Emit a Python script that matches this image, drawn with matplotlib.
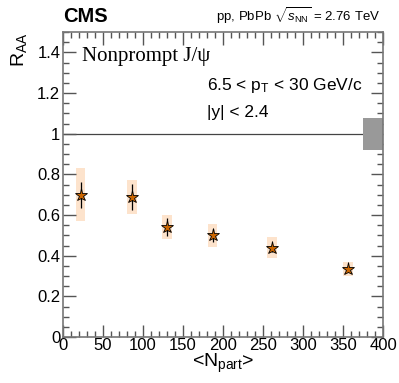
import numpy as np
import matplotlib.pyplot as plt
from matplotlib.patches import Rectangle
from matplotlib.ticker import MultipleLocator

plt.rcParams['font.family'] = ['Liberation Sans', 'DejaVu Sans']
plt.rcParams['mathtext.fontset'] = 'custom'
plt.rcParams['mathtext.rm'] = 'Liberation Sans'
plt.rcParams['mathtext.it'] = 'Liberation Sans:italic'

npart = [22, 86, 130, 187, 261, 356]
raa = [0.70, 0.69, 0.54, 0.50, 0.44, 0.335]
stat_err = [0.065, 0.065, 0.045, 0.03, 0.02, 0.015]
syst_err = [0.13, 0.085, 0.06, 0.058, 0.053, 0.035]
global_unc = 0.08

fig = plt.figure(figsize=(3.99, 3.83), dpi=100)
ax = fig.add_axes([0.158, 0.120, 0.802, 0.796])

box_w = 6
for x, y, s in zip(npart, raa, syst_err):
    ax.add_patch(Rectangle((x - box_w, y - s), 2 * box_w, 2 * s,
                           facecolor='#fde3cc', edgecolor='none', zorder=1))
ax.errorbar(npart, raa, yerr=stat_err, fmt='none', ecolor='black',
            elinewidth=0.9, capsize=0, zorder=2)
ax.plot(npart, raa, linestyle='none', marker='*', markersize=9.5,
        markerfacecolor='#cc6600', markeredgecolor='black',
        markeredgewidth=0.6, zorder=3)

ax.axhline(1.0, color='#444444', linewidth=0.9, zorder=1)
ax.add_patch(Rectangle((375, 1 - global_unc), 25, 2 * global_unc,
                       facecolor='#999999', edgecolor='none', zorder=2))

ax.set_xlim(0, 400)
ax.set_ylim(0, 1.5)
ax.xaxis.set_major_locator(MultipleLocator(50))
ax.xaxis.set_minor_locator(MultipleLocator(10))
ax.yaxis.set_minor_locator(MultipleLocator(0.05))
ax.set_yticks([0, 0.2, 0.4, 0.6, 0.8, 1, 1.2, 1.4])
ax.set_yticklabels(['0', '0.2', '0.4', '0.6', '0.8', '1', '1.2', '1.4'])
ax.tick_params(which='both', direction='in', top=True, right=True,
               labelsize=12, color='#555555')
ax.tick_params(which='major', length=9, width=1)
ax.tick_params(which='minor', length=4.5, width=1)
ax.tick_params(axis='x', pad=1)
ax.tick_params(axis='y', pad=2)
for sp in ax.spines.values():
    sp.set_color('#777777')
    sp.set_linewidth(1.2)

ax.set_ylabel(r'R$_{\mathrm{AA}}$', fontsize=14, loc='top', labelpad=6)
ax.set_xlabel(r'<N$_{\mathrm{part}}$>', fontsize=14, labelpad=0)
ax.xaxis.set_label_coords(0.5, -0.05)

fig.text(0.158, 0.932, 'CMS', fontsize=14.5, fontweight='bold', ha='left', va='bottom')
fig.text(0.953, 0.932, r'pp, PbPb $\sqrt{s_{\mathrm{NN}}}$ = 2.76 TeV',
         fontsize=9.5, ha='right', va='bottom')
ax.text(0.059, 0.921, 'Nonprompt J/ψ', transform=ax.transAxes,
        fontsize=15, family='Liberation Serif', ha='left', va='center')
ax.text(0.45, 0.826, r'6.5 < p$_{\mathrm{T}}$ < 30 GeV/c', transform=ax.transAxes,
        fontsize=12.5, ha='left', va='center')
ax.text(0.45, 0.738, '|y| < 2.4', transform=ax.transAxes,
        fontsize=12.5, ha='left', va='center')

fig.savefig('out.png', dpi=100)
